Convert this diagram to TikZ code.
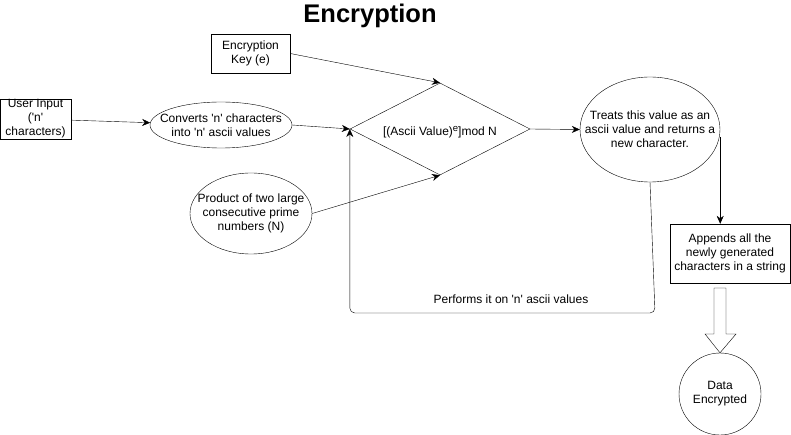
\documentclass[tikz,border=0pt]{standalone}
\usepackage{fontspec}
\setmainfont{Liberation Sans}[Ligatures=TeXOff]
\usepackage{tikz}
\usetikzlibrary{shapes.geometric,arrows.meta}

\begin{document}
\begin{tikzpicture}[x=1pt,y=-1pt]
		\tikzstyle{every node}+=[inner sep=0pt,font=\fontsize{12}{14}\selectfont,align=center]
		\tikzstyle{box}=[draw,rectangle]
		\tikzstyle{oval}=[draw,ellipse]
		\tikzstyle{link}=[-{Stealth[length=8pt,width=7pt]}]
		\useasboundingbox (0,0) rectangle (791,435);
		\node [font=\bfseries\fontsize{25.5}{30}\selectfont] (title) at (370,16) {Encryption};
		\node [box,minimum width=71,minimum height=40] (input) at (35.5,119) {User Input\\('n'\\characters)};
		\node [box,minimum width=79,minimum height=39] (key) at (250.5,53.5) {Encryption\\Key (e)};
		\node [oval,minimum width=142,minimum height=46,
			label={[align=center]center:Converts 'n' characters\\into 'n' ascii values}] (conv) at (221,125) {};
		\node [oval,minimum width=122,minimum height=81,
			label={[align=center]center:Product of two large\\consecutive prime\\numbers (N)}] (prod) at (251,213.5) {};
		\node [draw,diamond,minimum width=180,minimum height=92,
			label={[yshift=-3pt]center:[(Ascii Value)\raisebox{4pt}{\fontsize{9.5}{10}\selectfont e}]mod N}] (op) at (440,129) {};
		\node [oval,minimum width=140,minimum height=105,
			label={[align=center]center:Treats this value as an\\ascii value and returns a\\new character.}] (treat) at (650,129.5) {};
		\node [box,minimum width=120,minimum height=59] (append) at (730,253.5) {Appends all the\\newly generated\\characters in a string};
		\node [draw,circle,minimum size=82] (done) at (720,394) {Data\\Encrypted};
		\draw [link] (input) -- (conv);
		\draw [link] (key.east) -- (op.north);
		\draw [link] (conv.east) -- (op.west);
		\draw [link] (prod.east) -- (op.south);
		\draw [link] (op.east) -- (treat.west);
		\draw [link] (treat.east |- 0,137) -- (treat.east |- append.north);
		\draw [link,rounded corners=5pt] (treat.south) -- (655,313) -- (op.west |- 0,313) -- (op.west);
		\node (loop) at (511,299) {Performs it on 'n' ascii values};
		% hollow block arrow
		\draw [fill=white] (714,288) -- (726,288) -- (726,334) -- (736,334) -- (done.north)
			-- (705,334) -- (714,334) -- cycle;
	\end{tikzpicture}
\end{document}
